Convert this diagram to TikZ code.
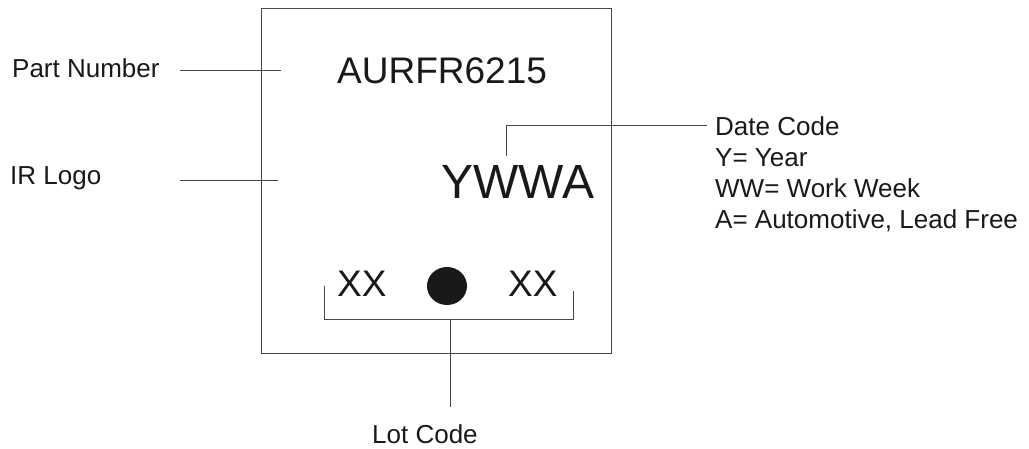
\documentclass[tikz,border=0pt]{standalone}
\usepackage{fontspec}
\setmainfont{Liberation Sans}
\usetikzlibrary{calc}
\definecolor{leadgray}{gray}{0.28}
\definecolor{inkblack}{gray}{0.1}
\tikzset{
  lbl/.style={inner sep=0, anchor=base west, text=inkblack, font=\fontsize{26}{31}\selectfont},
  mark36/.style={inner sep=0, anchor=base west, text=inkblack, font=\fontsize{37}{40}\selectfont},
  lead/.style={draw=leadgray, line width=0.9pt}
}

\begin{document}
\begin{tikzpicture}[x=1pt,y=-1pt]
		\useasboundingbox (0,0) rectangle (1029,448);
		% package outline
		\draw[lead] (261,8) rectangle (611,353);
		% marking text
		\node[mark36] (PART) at (337,83) {AURFR6215};
		\node[mark36, font=\fontsize{48}{50}\selectfont] (DATE) at (441,198) {YWWA};
		\node[mark36] (LOTa) at (337,296) {XX};
		\node[mark36] (LOTb) at (508,296) {XX};
		\fill[inkblack] (447,286) ellipse [x radius=20, y radius=19];
		% left labels
		\node[lbl] (PN) at (12,77) {Part Number};
		\node[lbl] (IR) at (10,184) {IR Logo};
		\coordinate (PNs) at (180,70);
		\coordinate (PNe) at (281,70);
		\coordinate (IRs) at (180,180);
		\coordinate (IRe) at (278,180);
		\draw[lead] (PNs) -- (PNe);
		\draw[lead] (IRs) -- (IRe);
		% date code
		\node[lbl] (DC) at (715,135) {Date Code};
		\node[lbl] (DCy) at (715,166) {Y= Year};
		\node[lbl] (DCw) at (715,197) {WW= Work Week};
		\node[lbl] (DCa) at (715,228) {A= Automotive, Lead Free};
		\coordinate (DCb) at (506,156);
		\draw[lead] (DCb) |- ([xshift=-8pt]DC.west);
		% lot code
		\coordinate (BL) at (324,286);
		\coordinate (BLb) at (324,319);
		\coordinate (BRb) at (573,319);
		\coordinate (BR) at (573,291);
		\coordinate (STa) at (450,319);
		\coordinate (STb) at (450,407);
		\draw[lead] (BL) -- (BLb) -- (BRb) -- (BR);
		\draw[lead] (STa) -- (STb);
		\node[lbl] (LC) at (372,443) {Lot Code};
	\end{tikzpicture}
\end{document}
